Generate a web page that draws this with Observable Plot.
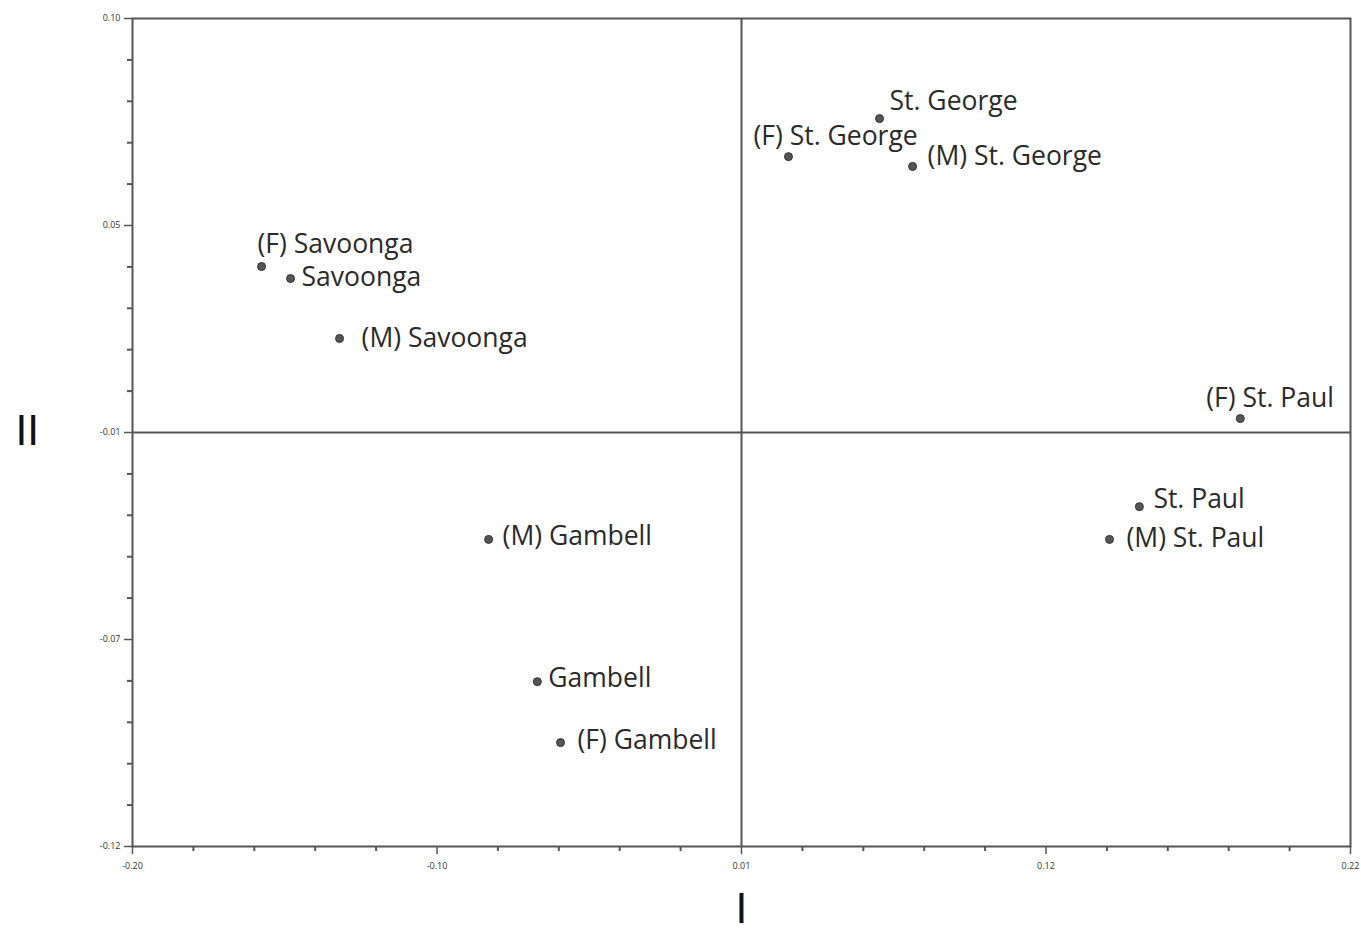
<!DOCTYPE html>
<html>
<head>
<meta charset="utf-8">
<script src="https://cdn.jsdelivr.net/npm/d3@7"></script>
<script src="https://cdn.jsdelivr.net/npm/@observablehq/plot@0.6"></script>
<style>
  html, body { margin: 0; padding: 0; background: #fff; }
  #chart svg { display: block; }
</style>
</head>
<body>
<div id="chart"></div>
<script>
// Data
const names = [
  "St. George", "(F) St. George", "(M) St. George",
  "(F) Savoonga", "Savoonga", "(M) Savoonga",
  "(F) St. Paul", "St. Paul", "(M) St. Paul",
  "(M) Gambell", "Gambell", "(F) Gambell"
];
const pc1 = [0.0576, 0.0262, 0.0690, -0.1555, -0.1455, -0.1286, 0.1820, 0.1472, 0.1369, -0.0772, -0.0604, -0.0524];
const pc2 = [0.0734, 0.0633, 0.0607, 0.0341, 0.0309, 0.0150, -0.0063, -0.0297, -0.0384, -0.0384, -0.0762, -0.0924];

const xTickValues = [-0.20, -0.095, 0.01, 0.115, 0.22];
const xTickLabels = ["-0.20", "-0.10", "0.01", "0.12", "0.22"];
const yTickValues = [0.10, 0.045, -0.01, -0.065, -0.12];
const yTickLabels = ["0.10", "0.05", "-0.01", "-0.07", "-0.12"];

// Label nudges (layout only), in pixels relative to each dot
const labelDx = [10, -35, 15, -4, 11, 22, -34, 14, 17, 14, 11, 17];
const labelDy = [-17, -20, -10, -22, -1, 0, -20, -7, -1, -3, -3, -2];

const data = names.map((n, i) => ({name: n, x: pc1[i], y: pc2[i], i}));

const xMinor = d3.range(0, 21).map(k => -0.20 + k * 0.021).filter((v, k) => k % 5 !== 0);
const yMinor = d3.range(0, 21).map(k => -0.12 + k * 0.011).filter((v, k) => k % 5 !== 0);

const fmt = (vals, labs) => d => { const j = vals.findIndex(v => Math.abs(v - d) < 1e-9); return j >= 0 ? labs[j] : ""; };

const labelMarks = data.map(d => Plot.text([d], {
  x: "x", y: "y", text: "name",
  dx: labelDx[d.i], dy: labelDy[d.i],
  textAnchor: "start", lineAnchor: "middle",
  fontSize: 26.5, fill: "#2a2a2a"
}));

const chart = Plot.plot({
  width: 1361,
  height: 940,
  marginLeft: 132,
  marginRight: 11,
  marginTop: 18,
  marginBottom: 94,
  style: {fontFamily: "'Open Sans', 'DejaVu Sans', sans-serif", background: "#fff"},
  x: {domain: [-0.20, 0.22]},
  y: {domain: [-0.12, 0.10]},
  marks: [
    Plot.frame({stroke: "#555", strokeWidth: 2}),
    Plot.ruleX([0.01], {stroke: "#555", strokeWidth: 2}),
    Plot.ruleY([-0.01], {stroke: "#555", strokeWidth: 2}),
    Plot.axisX(xMinor, {tickSize: 5, text: null, stroke: "#555", strokeWidth: 2, label: null}),
    Plot.axisY(yMinor, {tickSize: 5, text: null, stroke: "#555", strokeWidth: 2, label: null}),
    Plot.axisX(xTickValues, {tickSize: 8, tickPadding: 8, tickFormat: fmt(xTickValues, xTickLabels), fontSize: 9, fill: "#333", stroke: "#555", strokeWidth: 1.5, label: null}),
    Plot.axisY(yTickValues, {tickSize: 8, tickPadding: 4, tickFormat: fmt(yTickValues, yTickLabels), fontSize: 9, fill: "#333", stroke: "#555", strokeWidth: 1.5, label: null}),
    Plot.dot(data, {x: "x", y: "y", r: 4, fill: "#555", stroke: "#333", strokeWidth: 1}),
    ...labelMarks,
    Plot.text(["I"], {frameAnchor: "bottom", dy: 76, fontSize: 40, fill: "#111", fontFamily: "'DejaVu Sans', sans-serif"}),
    Plot.text(["II"], {frameAnchor: "left", dx: -117, fontSize: 40, fill: "#111", fontFamily: "'DejaVu Sans', sans-serif"})
  ]
});

document.getElementById("chart").appendChild(chart);
</script>
</body>
</html>
